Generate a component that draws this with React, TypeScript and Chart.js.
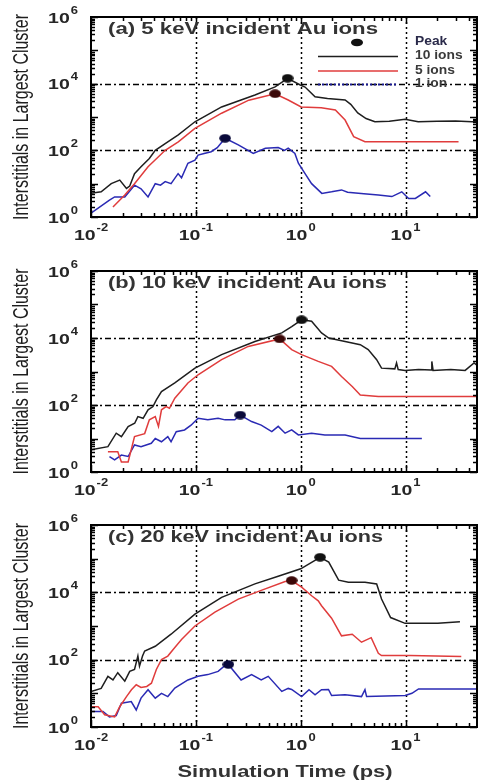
import React, { useEffect, useRef } from 'react';
import { Chart, registerables } from 'chart.js';
Chart.register(...registerables);

type P = [number, number];

// ---------- data (time in ps, interstitials in largest cluster) ----------
// Panel (a) 5 keV
const A_TEN: P[] = [[0.01,5.2],[0.0125,5.7],[0.0156,10],[0.0188,12.8],[0.0218,7.2],[0.0234,8.5],[0.026,20],[0.03,32],[0.036,57],[0.041,100],[0.051,160],[0.068,290],[0.098,720],[0.176,2000],[0.366,4570],[0.57,8000],[0.75,14500],[0.99,9100],[1.1,7900],[1.37,4060],[1.8,3600],[2.65,3240],[3.0,2400],[3.5,1320],[4.2,900],[5.1,724],[7,740],[9.9,850],[13.2,724],[20,740],[30,760],[43,724],[50,720]];
const A_FIVE: P[] = [[0.0162,2],[0.021,4.6],[0.026,10],[0.035,32],[0.051,100],[0.068,180],[0.098,455],[0.176,1300],[0.32,3200],[0.57,5000],[0.76,3240],[1.01,2000],[1.57,1900],[2.14,1620],[2.65,810],[3.2,257],[4.1,182],[10,182],[32,182]];
const A_ONE: P[] = [[0.01,1.3],[0.015,3.2],[0.0168,4],[0.021,4],[0.026,9],[0.03,7],[0.035,4],[0.041,10],[0.046,9],[0.051,11.5],[0.058,10],[0.0677,20],[0.073,15],[0.084,41],[0.098,51],[0.105,72],[0.12,80],[0.14,91],[0.16,120],[0.19,230],[0.254,145],[0.353,81],[0.46,115],[0.61,122],[0.7,100],[0.76,117],[0.88,81],[0.95,41],[1.1,20],[1.27,10],[1.59,5.1],[1.97,5.7],[2.45,6.5],[2.8,5.5],[4,5],[5.5,4.6],[7.4,4.1],[9.2,5.7],[10.7,3.6],[12.4,3.6],[15.5,5.7],[17.2,4.1]];
const A_PEAKS: P[] = [[0.75,14500],[0.57,5000],[0.19,230]];

// Panel (b) 10 keV
const B_TEN: P[] = [[0.01,4.6],[0.0145,5.7],[0.0174,14.4],[0.0195,11.4],[0.0226,22.8],[0.0261,28.6],[0.028,45],[0.0314,40],[0.035,72],[0.039,90],[0.042,143],[0.047,252],[0.063,455],[0.098,1260],[0.176,3200],[0.366,7900],[0.66,14200],[0.82,22000],[1.02,35000],[1.27,31600],[1.58,14200],[1.85,10000],[2.65,7900],[3.7,6300],[4.4,4500],[5.3,2250],[5.9,1260],[7.9,1200],[8.2,1800],[8.5,1150],[9.9,1080],[13.3,1150],[17.5,1100],[17.8,2000],[18.3,1080],[27,1150],[37,1080],[45,1800],[50,1400]];
const B_FIVE: P[] = [[0.0145,4],[0.018,4],[0.0195,2],[0.0226,2],[0.026,11.4],[0.0325,14],[0.036,36],[0.041,45],[0.044,23],[0.047,72],[0.052,90],[0.056,80],[0.063,160],[0.084,455],[0.105,800],[0.176,2250],[0.316,5600],[0.63,9400],[0.82,4500],[1.02,3200],[1.47,2000],[1.97,1420],[2.45,710],[3.1,355],[3.7,200],[5.5,180],[50,180]];
const B_ONE: P[] = [[0.015,2.9],[0.0168,2.3],[0.0195,3.2],[0.0226,2.9],[0.026,6.4],[0.03,5.7],[0.0376,7.2],[0.041,10],[0.047,8],[0.054,11.4],[0.058,8],[0.065,16],[0.078,18],[0.09,25],[0.105,40],[0.13,36],[0.163,40],[0.19,36],[0.235,36],[0.265,50],[0.34,32],[0.42,25],[0.53,16],[0.61,23],[0.71,14.4],[0.82,18],[0.95,12.8],[1.27,14.4],[1.7,12.8],[2.65,12.8],[3.7,10],[14.3,10]];
const B_PEAKS: P[] = [[1.02,35000],[0.63,9400],[0.265,50]];

// Panel (c) 20 keV
const C_TEN: P[] = [[0.01,11.4],[0.0125,14],[0.0145,32],[0.0162,25],[0.018,41],[0.021,23],[0.0234,45],[0.026,51],[0.028,128],[0.029,64],[0.031,128],[0.0325,180],[0.041,250],[0.058,570],[0.098,2250],[0.176,7100],[0.366,17800],[0.61,30000],[1.0,50000],[1.53,110000],[1.85,79000],[2.3,23000],[2.85,20000],[4.1,20000],[5.3,17800],[5.9,6300],[7.2,1780],[9.9,1200],[20.3,1200],[33,1330]];
const C_FIVE: P[] = [[0.01,4],[0.0117,4],[0.0135,2.3],[0.0168,2],[0.0188,4],[0.0218,8],[0.0243,12.8],[0.027,18],[0.03,15],[0.034,16],[0.0377,20],[0.042,51],[0.047,100],[0.054,128],[0.063,230],[0.073,400],[0.098,1000],[0.152,2600],[0.254,6300],[0.42,11400],[0.71,21000],[0.82,22400],[1.02,14200],[1.27,7900],[1.47,5600],[1.58,4000],[1.97,1700],[2.45,510],[3.1,570],[3.8,330],[4.7,450],[5.5,155],[5.9,133],[11,133],[34,125]];
const C_ONE: P[] = [[0.01,2.9],[0.013,2.9],[0.015,2],[0.0174,2.2],[0.0195,5.1],[0.0242,5.7],[0.027,3.2],[0.03,7.2],[0.035,12.8],[0.041,7.2],[0.047,10],[0.054,8],[0.063,14.4],[0.084,25],[0.105,32],[0.13,36],[0.163,45],[0.19,67],[0.204,72],[0.27,25],[0.34,36],[0.42,25],[0.49,32],[0.66,11.4],[0.76,14],[0.82,13],[1.02,8],[1.2,12.8],[1.37,9],[1.58,12.8],[1.84,13],[1.97,8.6],[2.65,9],[3.8,8],[4.1,12.8],[4.25,8],[9.9,8.6],[11.5,10],[13.3,13.5],[50,13.5]];
const C_PEAKS: P[] = [[1.53,110000],[0.82,22400],[0.204,72]];

const PANEL_TITLES = ['(a) 5 keV incident Au ions', '(b) 10 keV incident Au ions', '(c) 20 keV incident Au ions'];
const SERIES_LABELS = ['10 ions', '5 ions', '1 ion'];
const PEAK_LABEL = 'Peak';
const X_TICKS = [0.01, 0.1, 1, 10];
const Y_TICKS = [1, 100, 10000, 1000000];
const X_TITLE = 'Simulation Time (ps)';
const Y_TITLE = 'Interstitials in Largest Cluster';
const X_MIN = 0.01, X_MAX = 48, Y_MIN = 1, Y_MAX = 1000000;

// ---------- styles ----------
const BLACK = '#1e1e1e', RED = '#e03c3c', BLUE = '#2a2ab4';
const MARK_COLORS = ['#111111', '#3a0808', '#0a0a3a'];
const FONT = '"Liberation Sans", Arial, Helvetica, sans-serif';
const W = 478;

function ellipseMarker(color: string) {
  const c = document.createElement('canvas');
  c.width = 12; c.height = 9;
  const g = c.getContext('2d')!;
  g.fillStyle = color;
  g.beginPath();
  g.ellipse(6, 4.5, 5.8, 4.2, 0, 0, Math.PI * 2);
  g.fill();
  return c;
}

function txt(ctx: CanvasRenderingContext2D, s: string, x: number, y: number, size: number, sx: number, align: 'left' | 'center' | 'right', base: CanvasTextBaseline, color: string, fitW?: number, weight = 'bold') {
  ctx.save();
  ctx.font = `${weight} ${size}px ${FONT}`;
  ctx.fillStyle = color;
  ctx.textAlign = 'left';
  ctx.textBaseline = base;
  const m = ctx.measureText(s).width;
  const k = fitW ? fitW / m : sx;
  const w = m * k;
  const x0 = align === 'center' ? x - w / 2 : align === 'right' ? x - w : x;
  ctx.translate(x0, y);
  ctx.scale(k, 1);
  ctx.fillText(s, 0, 0);
  ctx.restore();
  return w;
}

function powLabel(ctx: CanvasRenderingContext2D, v: number, x: number, baseY: number, align: 'center' | 'right') {
  const e = String(Math.round(Math.log10(v)));
  const sx = 1.3;
  ctx.save();
  ctx.font = `bold 15px ${FONT}`;
  const w1 = ctx.measureText('10').width * sx;
  ctx.font = `bold 10px ${FONT}`;
  const w2 = ctx.measureText(e).width * sx;
  ctx.restore();
  const total = w1 + 1 + w2;
  const x0 = align === 'center' ? x - total / 2 : x - total;
  txt(ctx, '10', x0, baseY, 15, sx, 'left', 'alphabetic', '#262626');
  txt(ctx, e, x0 + w1 + 1, baseY - 9, 10, sx, 'left', 'alphabetic', '#262626');
}

function logValues(min: number, max: number) {
  const out: { v: number; major: boolean }[] = [];
  for (let d = Math.floor(Math.log10(min)); d <= Math.ceil(Math.log10(max)); d++) {
    for (let m = 1; m <= 9; m++) {
      const v = m * Math.pow(10, d);
      if (v >= min * 0.9999 && v <= max * 1.0001) out.push({ v, major: m === 1 });
    }
  }
  return out;
}

type PanelDef = { idx: number; series: P[][]; peaks: P[]; height: number; xAxisH: number; top: number };

function makeDecor(p: PanelDef) {
  return {
    id: 'decor' + p.idx,
    beforeDatasetsDraw(chart: any) {
      const { ctx, chartArea: a, scales } = chart;
      const x = scales.x, y = scales.y;
      ctx.save();
      ctx.strokeStyle = '#000';
      ctx.lineWidth = 1.5;
      ctx.setLineDash([2, 3]);
      for (const v of X_TICKS) {
        if (v <= X_MIN || v >= X_MAX) continue;
        const px = Math.round(x.getPixelForValue(v)) + 0.5;
        ctx.beginPath(); ctx.moveTo(px, a.top); ctx.lineTo(px, a.bottom); ctx.stroke();
      }
      ctx.setLineDash([6, 3, 2, 3]);
      for (const v of Y_TICKS) {
        if (v <= Y_MIN || v >= Y_MAX) continue;
        const py = Math.round(y.getPixelForValue(v)) + 0.5;
        ctx.beginPath(); ctx.moveTo(a.left, py); ctx.lineTo(a.right, py); ctx.stroke();
      }
      ctx.restore();
    },
    afterDraw(chart: any) {
      const { ctx, chartArea: a, scales } = chart;
      const x = scales.x, y = scales.y;
      ctx.save();
      // inside tick marks
      ctx.strokeStyle = '#000';
      ctx.lineWidth = 1.5;
      ctx.setLineDash([]);
      for (const t of logValues(X_MIN, X_MAX)) {
        const px = Math.round(x.getPixelForValue(t.v)) + 0.5;
        const len = t.major ? 7 : 4;
        ctx.beginPath();
        ctx.moveTo(px, a.bottom); ctx.lineTo(px, a.bottom - len);
        ctx.moveTo(px, a.top); ctx.lineTo(px, a.top + len);
        ctx.stroke();
      }
      for (const t of logValues(Y_MIN, Y_MAX)) {
        const py = Math.round(y.getPixelForValue(t.v)) + 0.5;
        const len = t.major ? 7 : 4;
        ctx.beginPath();
        ctx.moveTo(a.left, py); ctx.lineTo(a.left + len, py);
        ctx.moveTo(a.right, py); ctx.lineTo(a.right - len, py);
        ctx.stroke();
      }
      // frame
      ctx.lineWidth = 2;
      ctx.strokeRect(a.left, a.top, a.right - a.left, a.bottom - a.top);
      ctx.restore();

      // tick labels
      for (const v of X_TICKS) powLabel(ctx, v, x.getPixelForValue(v), a.bottom + 23, 'center');
      for (const v of Y_TICKS) powLabel(ctx, v, a.left - 13, y.getPixelForValue(v) + 5.5, 'right');

      // y title (rotated, condensed look)
      ctx.save();
      ctx.translate(22, (a.top + a.bottom) / 2);
      ctx.rotate(-Math.PI / 2);
      ctx.font = `16px ${FONT}`;
      const m = ctx.measureText(Y_TITLE).width;
      ctx.scale(206 / m, 1.35);
      ctx.fillStyle = '#1e1e1e';
      ctx.textAlign = 'center';
      ctx.textBaseline = 'middle';
      ctx.fillText(Y_TITLE, 0, 0);
      ctx.restore();

      // panel title
      const titleW = [270, 279, 275][p.idx];
      txt(ctx, PANEL_TITLES[p.idx], 108, a.top + 13, 16, 1, 'left', 'middle', '#333', titleW);

      // x title on last panel
      if (p.idx === 2) {
        txt(ctx, X_TITLE, (a.left + a.right) / 2 + 1, a.bottom + 45, 17, 1, 'center', 'middle', '#333', 215);
      }

      // legend on first panel
      if (p.idx === 0) {
        ctx.save();
        ctx.fillStyle = MARK_COLORS[0];
        ctx.beginPath();
        ctx.ellipse(357, 42.5, 6, 3.8, 0, 0, Math.PI * 2);
        ctx.fill();
        const ly = [56.5, 71, 84.5];
        const cols = [BLACK, RED, '#1a1a90'];
        for (let i = 0; i < 3; i++) {
          ctx.strokeStyle = cols[i];
          ctx.lineWidth = i === 2 ? 2 : 1.5;
          ctx.setLineDash(i === 2 ? [2, 2] : []);
          ctx.beginPath(); ctx.moveTo(318, ly[i]); ctx.lineTo(398, ly[i]); ctx.stroke();
        }
        ctx.restore();
        txt(ctx, PEAK_LABEL, 415, 42, 12, 1.15, 'left', 'middle', '#2a2a4a');
        for (let i = 0; i < 3; i++) txt(ctx, SERIES_LABELS[i], 415, ly[i] - 0.5, 12, 1.15, 'left', 'middle', '#3a3a3a');
      }
    },
  };
}

function buildConfig(p: PanelDef, markers: HTMLCanvasElement[]): any {
  const cols = [BLACK, RED, BLUE];
  const lines = p.series.map((s, i) => ({
    data: s.map(([t, v]) => ({ x: t, y: v })),
    showLine: true,
    borderColor: cols[i],
    borderWidth: 1.5,
    pointRadius: 0,
    tension: 0,
    fill: false,
  }));
  const peaks = {
    data: p.peaks.map(([t, v]) => ({ x: t, y: v })),
    showLine: false,
    pointStyle: (c: any) => markers[c.dataIndex],
    pointRadius: 6,
  };
  return {
    type: 'scatter',
    data: { datasets: [peaks, ...lines] },
    options: {
      responsive: false,
      maintainAspectRatio: false,
      animation: false,
      events: [],
      layout: { autoPadding: false, padding: { top: 17, right: 1, left: 0, bottom: 0 } },
      scales: {
        x: {
          type: 'logarithmic', min: X_MIN, max: X_MAX, position: 'bottom',
          grid: { display: false }, border: { display: false }, ticks: { display: false },
          afterFit: (s: any) => { s.height = p.xAxisH; },
        },
        y: {
          type: 'logarithmic', min: Y_MIN, max: Y_MAX, position: 'left',
          grid: { display: false }, border: { display: false }, ticks: { display: false },
          afterFit: (s: any) => { s.width = 91; },
        },
      },
      plugins: { legend: { display: false }, tooltip: { enabled: false }, title: { display: false } },
    },
    plugins: [makeDecor(p)],
  };
}

const PANELS: PanelDef[] = [
  { idx: 0, series: [A_TEN, A_FIVE, A_ONE], peaks: A_PEAKS, top: 0, height: 254, xAxisH: 37 },
  { idx: 1, series: [B_TEN, B_FIVE, B_ONE], peaks: B_PEAKS, top: 254, height: 254, xAxisH: 36 },
  { idx: 2, series: [C_TEN, C_FIVE, C_ONE], peaks: C_PEAKS, top: 508, height: 274, xAxisH: 55 },
];

function Panel({ p }: { p: PanelDef }) {
  const ref = useRef<HTMLCanvasElement>(null);
  useEffect(() => {
    const markers = MARK_COLORS.map(ellipseMarker);
    const chart = new Chart(ref.current!, buildConfig(p, markers));
    return () => chart.destroy();
  }, [p]);
  return (
    <canvas
      ref={ref}
      width={W}
      height={p.height}
      style={{ position: 'absolute', left: 0, top: p.top, width: W, height: p.height, display: 'block' }}
    />
  );
}

export default function App() {
  return (
    <div style={{ position: 'absolute', left: 0, top: 0, width: W, height: 782, background: '#fff', overflow: 'hidden' }}>
      {PANELS.map((p) => <Panel key={p.idx} p={p} />)}
    </div>
  );
}
